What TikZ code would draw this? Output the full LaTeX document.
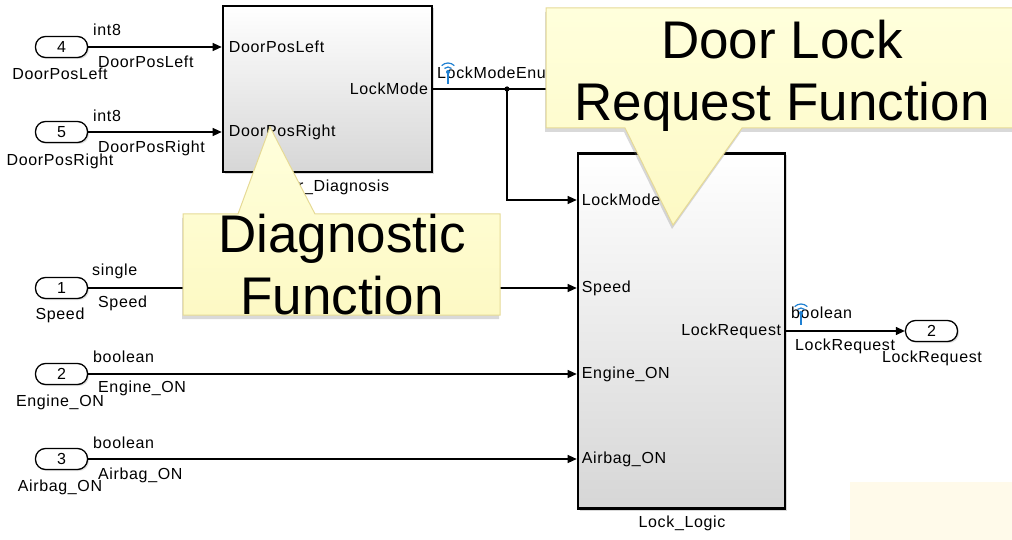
\documentclass[tikz,border=0pt]{standalone}
\usepackage{fontspec}
\setmainfont{Liberation Sans}
\newfontfamily\simfont[LetterSpace=4]{Liberation Sans}
\usetikzlibrary{arrows.meta,shadows,positioning}

\definecolor{notetop}{HTML}{FFFFDC}
\definecolor{notebot}{HTML}{FDF9C4}
\definecolor{noteline}{HTML}{E6DA96}
\definecolor{patch}{HTML}{FFFAEA}
\definecolor{logblue}{HTML}{1F80D2}

\tikzset{
  sig/.style={-{Triangle[length=9pt,width=8pt]}, line width=1.2pt},
  wire/.style={line width=1.2pt},
  port/.style={draw, line width=1.3pt, rounded corners=10pt, minimum width=52pt, minimum height=21pt, inner sep=0pt, fill=white, font=\simfont\fontsize{16}{18}\selectfont, drop shadow={opacity=0.25, shadow xshift=1.5pt, shadow yshift=-1.5pt}},
  block/.style={draw, line width=2.6pt, top color=white, bottom color=black!16, inner sep=0pt, drop shadow={opacity=0.3, shadow xshift=2pt, shadow yshift=-2pt}},
  lbl/.style={font=\simfont\fontsize{16}{18}\selectfont, inner sep=0pt},
  note/.style={draw=noteline, line width=1pt, top color=notetop, bottom color=notebot, drop shadow={opacity=0.3, shadow xshift=-1pt, shadow yshift=-4pt}},
  bigtext/.style={font=\fontsize{53}{62}\selectfont, align=center, inner sep=0pt},
  logmark/.style={logblue, line width=1.2pt}
}

\begin{document}
\begin{tikzpicture}[x=1pt,y=1pt,yscale=-1]
\useasboundingbox (0,0) rectangle (1012,540);

% pale patch bottom right
\fill[patch] (850,482) rectangle (1012,540);

% Inports
\node[port] (in4) at (61.5,47) {4};
\node[lbl] (in4name) at (60,74) {DoorPosLeft};
\node[port] (in5) at (61.5,132) {5};
\node[lbl] (in5name) at (60,161) {DoorPosRight};
\node[port] (in1) at (61.5,288) {1};
\node[lbl] (in1name) at (60,315) {Speed};
\node[port] (in2) at (61.5,374) {2};
\node[lbl] (in2name) at (60,402) {Engine\_ON};
\node[port] (in3) at (61.5,459) {3};
\node[lbl] (in3name) at (60,487) {Airbag\_ON};

% Outport
\node[port] (out2) at (931.5,331) {2};
\node[lbl] (out2name) at (932,358) {LockRequest};

% Subsystems
\node[block, minimum width=209pt, minimum height=166pt] (diag) at (327.5,89) {};
\node[lbl] (diagname) at (328,187) {Door\_Diagnosis};
\node[block, minimum width=207pt, minimum height=355pt] (logic) at (681.5,331) {};
\node[lbl] (logicname) at (682,523) {Lock\_Logic};

% Subsystem ports
\node[lbl, anchor=west] (pDL) at ([xshift=7pt]diag.west |- in4) {DoorPosLeft};
\node[lbl, anchor=west] (pDR) at ([xshift=7pt]diag.west |- in5) {DoorPosRight};
\node[lbl, anchor=east] (pLM) at ([xshift=-5pt]diag.east) {LockMode};
\coordinate (lmIn) at (logic.west |- 0,200);
\node[lbl, anchor=west] (pLMin) at ([xshift=5pt]lmIn) {LockMode};
\node[lbl, anchor=west] (pSp) at ([xshift=5pt]logic.west |- in1) {Speed};
\node[lbl, anchor=west] (pEn) at ([xshift=5pt]logic.west |- in2) {Engine\_ON};
\node[lbl, anchor=west] (pAb) at ([xshift=5pt]logic.west |- in3) {Airbag\_ON};
\node[lbl, anchor=east] (pLR) at ([xshift=-5pt]logic.east) {LockRequest};

% Signal lines
\draw[sig] (in4) -- (in4 -| diag.west);
\draw[sig] (in5) -- (in5 -| diag.west);
\draw[sig] (in1) -- (in1 -| logic.west);
\draw[sig] (in2) -- (in2 -| logic.west);
\draw[sig] (in3) -- (in3 -| logic.west);
\coordinate (jn) at (507,89);
\coordinate (lmEnd) at (565,89);
\draw[wire] (diag.east) -- (jn) -- (lmEnd);
\fill (jn) circle (2.6pt);
\draw[sig] (jn) |- (lmIn);
\draw[sig] (logic.east) -- (out2);

% Signal labels
\node[lbl, anchor=west] at (93,30) {int8};
\node[lbl, anchor=west] at (98,62) {DoorPosLeft};
\node[lbl, anchor=west] at (93,116) {int8};
\node[lbl, anchor=west] at (98,148) {DoorPosRight};
\node[lbl, anchor=west] at (92,271) {single};
\node[lbl, anchor=west] at (98,303) {Speed};
\node[lbl, anchor=west] at (93,357) {boolean};
\node[lbl, anchor=west] at (98,388) {Engine\_ON};
\node[lbl, anchor=west] at (93,443) {boolean};
\node[lbl, anchor=west] at (98,475) {Airbag\_ON};
\node[lbl, anchor=west] at (437,73) {LockModeEnum};
\node[lbl, anchor=west] at (791,313) {boolean};
\node[lbl, anchor=west] at (795,346) {LockRequest};

% Logged signal marks
\draw[logmark] (448,72) -- (448,84);
\fill[logblue] (448,72) circle (2pt);
\draw[logmark] ([shift={(-135:5)}]448,72) arc[start angle=-135, end angle=-45, radius=5];
\draw[logmark] ([shift={(-135:9)}]448,72) arc[start angle=-135, end angle=-45, radius=9];
\draw[logmark] (801,313) -- (801,325);
\fill[logblue] (801,313) circle (2pt);
\draw[logmark] ([shift={(-135:5)}]801,313) arc[start angle=-135, end angle=-45, radius=5];
\draw[logmark] ([shift={(-135:9)}]801,313) arc[start angle=-135, end angle=-45, radius=9];

% Callouts
\draw[note] (183,214) -- (238,214) -- (270,127) -- (315,214) -- (500,214)
  -- (500,315) -- (183,315) -- cycle;
\node[bigtext] (noteDiag) at (342,265) {Diagnostic\\Function};
\draw[note] (546,8) -- (1030,8) -- (1030,128) -- (742,128) -- (673,225)
  -- (625,128) -- (546,128) -- cycle;
\node[bigtext] (noteLock) at (782,76) {Door Lock\\Request Function};

\end{tikzpicture}
\end{document}
